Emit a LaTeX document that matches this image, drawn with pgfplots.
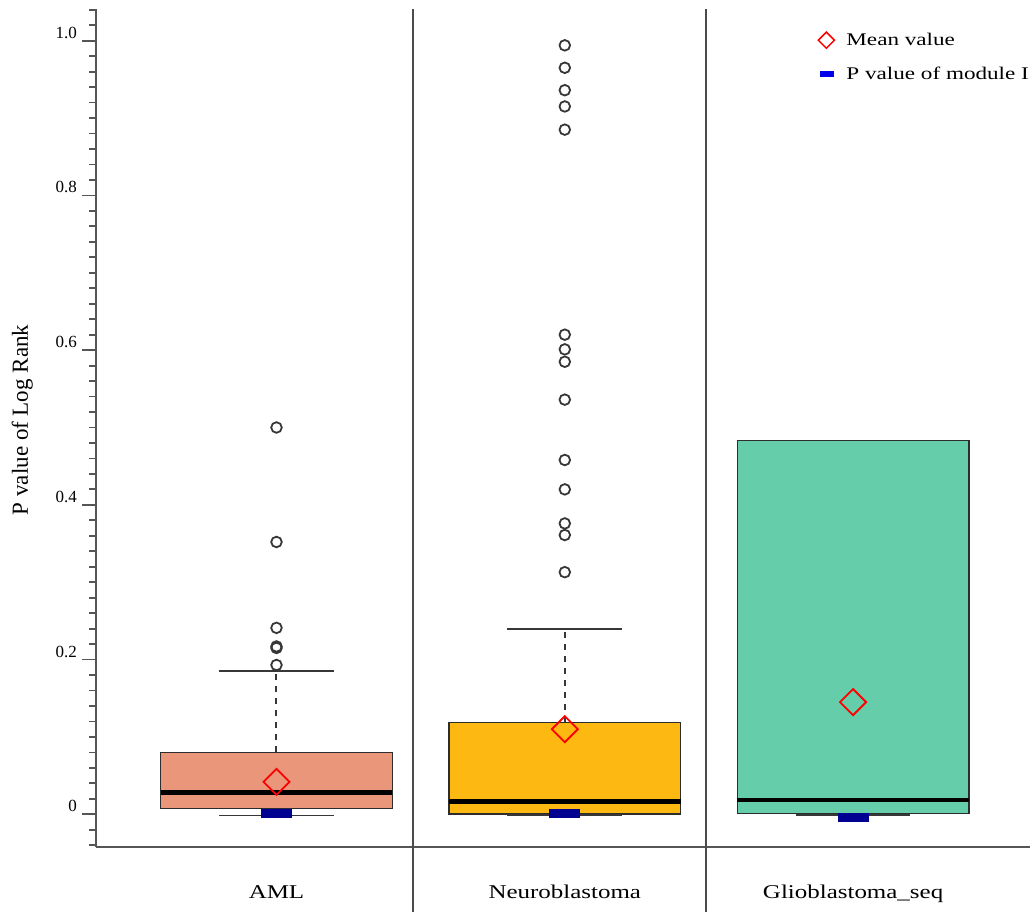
\documentclass[border=0pt]{standalone}
\usepackage{pgfplots}
\pgfplotsset{compat=1.18}
\usepackage{fontspec}
\setmainfont{Liberation Serif}
\newfontfamily\widefont[FakeStretch=1.28]{Liberation Serif}
\newfontfamily\legfont[FakeStretch=1.3]{Liberation Serif}
\definecolor{amlc}{RGB}{233,150,122}
\definecolor{neuc}{RGB}{254,184,18}
\definecolor{glic}{RGB}{102,205,170}
\definecolor{navyc}{RGB}{0,0,145}
\definecolor{legblue}{RGB}{0,0,235}
\definecolor{axisgray}{RGB}{85,85,85}
\definecolor{boxedge}{RGB}{45,45,45}
\definecolor{outl}{RGB}{55,55,55}
\definecolor{sepcol}{RGB}{75,75,75}
\begin{document}
\begin{tikzpicture}
\begin{axis}[name=ax, scale only axis, width=933.5pt, height=838pt,
  xmin=0.3757, xmax=3.6136, ymin=-0.04266, ymax=1.0406,
  clip=false,
  axis x line*=bottom, axis y line*=left,
  axis line style={line width=2pt, color=axisgray},
  xtick={1,2,3}, xticklabels={AML,Neuroblastoma,Glioblastoma\_seq},
  xtick style={draw=none},
  xticklabel style={font=\widefont\fontsize{19.5}{22}\selectfont, anchor=base, yshift=-37pt},
  ytick={0,0.2,0.4,0.6,0.8,1.0}, yticklabels={0,0.2,0.4,0.6,0.8,1.0},
  minor ytick={-0.04,-0.02,0.02,0.04,0.06,0.08,0.1,0.12,0.14,0.16,0.18,0.22,0.24,0.26,0.28,0.3,0.32,0.34,0.36,0.38,0.42,0.44,0.46,0.48,0.5,0.52,0.54,0.56,0.58,0.62,0.64,0.66,0.68,0.7,0.72,0.74,0.76,0.78,0.82,0.84,0.86,0.88,0.9,0.92,0.94,0.96,0.98,1.02,1.04},
  tick align=outside, major tick length=14pt, minor tick length=7pt,
  ytick style={line width=1.8pt, color=axisgray},
  minor y tick style={line width=1.8pt, color=axisgray},
  yticklabel style={font=\fontsize{17}{19}\selectfont, yshift=8pt, xshift=-2pt},
  ylabel={P value of Log Rank},
  ylabel style={at={(axis description cs:-0.068,0.51)}, anchor=south, inner sep=0pt, font=\fontsize{23}{26}\selectfont},
  legend style={at={(axis description cs:0.773,0.974)}, anchor=north west, draw=none, fill=none,
    font=\legfont\fontsize{17.8}{20}\selectfont, row sep=16pt, column sep=10pt, inner sep=0pt},
  legend cell align=left,
]
% legend
\addlegendimage{only marks, mark=square, mark size=5.7pt, mark options={rotate=45, draw=red, line width=1.5pt, fill=none}}
\addlegendentry{Mean value}
\addlegendimage{legend image code/.code={\fill[legblue] (0.1cm,-2.5pt) rectangle ++(13pt,5pt);}}
\addlegendentry{P value of module I}

% separators
\addplot[forget plot, sepcol, line width=2pt] coordinates {(1.4735,1.0406) (1.4735,-0.127)};
\addplot[forget plot, sepcol, line width=2pt] coordinates {(2.4898,1.0406) (2.4898,-0.127)};

% boxes (Q1 to Q3)
\addplot[forget plot, fill=amlc, draw=boxedge, line width=1.3pt] coordinates {(0.5985,0.0078) (1.4015,0.0078) (1.4015,0.080) (0.5985,0.080)} -- cycle;
\addplot[forget plot, fill=neuc, draw=boxedge, line width=1.3pt] coordinates {(1.5985,0.0004) (2.4015,0.0004) (2.4015,0.119) (1.5985,0.119)} -- cycle;
\addplot[forget plot, fill=glic, draw=boxedge, line width=1.3pt] coordinates {(2.5985,0.0013) (3.4015,0.0013) (3.4015,0.483) (2.5985,0.483)} -- cycle;

% medians
\addplot[forget plot, black, line width=4.5pt] coordinates {(0.5985,0.028) (1.4015,0.028)};
\addplot[forget plot, black, line width=4.5pt] coordinates {(1.5985,0.0163) (2.4015,0.0163)};
\addplot[forget plot, black, line width=4.5pt] coordinates {(2.5985,0.0185) (3.4015,0.0185)};

% whiskers
\addplot[forget plot, outl, line width=2pt, dash pattern=on 6pt off 6pt] coordinates {(1,0.080) (1,0.1855)};
\addplot[forget plot, outl, line width=2pt, dash pattern=on 6pt off 6pt] coordinates {(2,0.119) (2,0.2396)};
\addplot[forget plot, outl, line width=1.6pt] coordinates {(0.801,0.1855) (1.199,0.1855)};
\addplot[forget plot, outl, line width=1.6pt] coordinates {(1.801,0.2396) (2.199,0.2396)};
\addplot[forget plot, outl, line width=1.6pt] coordinates {(0.801,-0.0013) (1.199,-0.0013)};
\addplot[forget plot, outl, line width=1.6pt] coordinates {(1.801,-0.001) (2.199,-0.001)};
\addplot[forget plot, outl, line width=1.6pt] coordinates {(2.801,-0.001) (3.199,-0.001)};

% outliers
\addplot[forget plot, only marks, mark=o, mark size=5.3pt, mark options={draw=outl, line width=1.8pt}] coordinates {
  (1,0.500) (1,0.352) (1,0.241) (1,0.217) (1,0.215) (1,0.193)
  (2,0.994) (2,0.965) (2,0.936) (2,0.915) (2,0.885)
  (2,0.620) (2,0.601) (2,0.585) (2,0.536) (2,0.458) (2,0.420) (2,0.376) (2,0.361) (2,0.313)
};

% means
\addplot[forget plot, only marks, mark=square, mark size=9.2pt, mark options={rotate=45, draw=red, line width=1.8pt, fill=none}] coordinates {(1,0.042) (2,0.110) (3,0.145)};

% P value of module I
\addplot[forget plot, only marks, mark=-, mark size=15.5pt, mark options={draw=navyc, line width=9pt}] coordinates {(1,0.0014) (2,0.001) (3,-0.004)};
\end{axis}
\pgfresetboundingbox
\path[use as bounding box] ([xshift=-96.5pt, yshift=-64.7pt]ax.south west) rectangle ([yshift=9.3pt]ax.north east);
\end{tikzpicture}
\end{document}
